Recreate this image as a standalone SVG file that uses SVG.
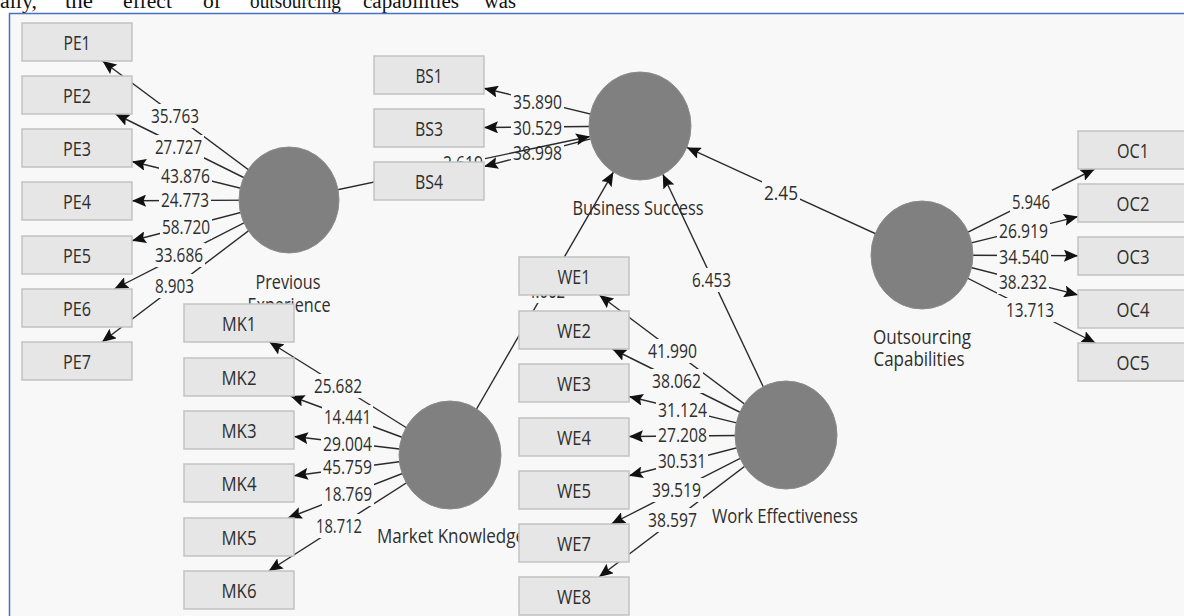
<svg xmlns="http://www.w3.org/2000/svg" width="1184" height="616" viewBox="0 0 1184 616">
  <style>
    .frame { fill: #f8f8f8; stroke: #4472c4; stroke-width: 1.5; }
    .page { font-family: "Liberation Serif", serif; font-size: 20px; fill: #111; }
    .box { fill: #e6e6e6; stroke: #c2c2c2; stroke-width: 1.5; }
    .lv { fill: #808080; stroke: #8c8c8c; stroke-width: 1; }
    .ln { stroke: #2a2a2a; stroke-width: 1.4; fill: none; marker-end: url(#ah); }
    .t { font-family: "Open Sans", "Noto Sans", sans-serif; font-size: 20px; fill: #2e2e2e; text-anchor: middle; }
    .bg { fill: #f8f8f8; }
  </style>
  <defs>
    <marker id="ah" viewBox="0 0 14 12" refX="14" refY="6" markerWidth="14" markerHeight="12" markerUnits="userSpaceOnUse" orient="auto">
      <path d="M0,0 L14,6 L0,12 L2.5,6 z" fill="#111"/>
    </marker>
  </defs>

  <!-- page background and figure frame -->
  <rect x="0" y="0" width="1184" height="616" fill="#ffffff"/>
  <g class="page">
    <text x="0" y="8" textLength="37" lengthAdjust="spacingAndGlyphs">ally,</text>
    <text x="65" y="8" textLength="28" lengthAdjust="spacingAndGlyphs">the</text>
    <text x="123" y="8" textLength="49" lengthAdjust="spacingAndGlyphs">effect</text>
    <text x="203" y="8" textLength="18" lengthAdjust="spacingAndGlyphs">of</text>
    <text x="250" y="8" textLength="91" lengthAdjust="spacingAndGlyphs">outsourcing</text>
    <text x="363" y="8" textLength="96" lengthAdjust="spacingAndGlyphs">capabilities</text>
    <text x="484" y="8" textLength="32" lengthAdjust="spacingAndGlyphs">was</text>
  </g>
  <rect class="frame" x="9.5" y="13.5" width="1200" height="620"/>

  <!-- connectors: outer loadings, then inner paths -->
  <g id="connectors">
    <g id="loadings">
      <line class="ln" x1="289" y1="200" x2="102.5" y2="61"/>
      <line class="ln" x1="289" y1="200" x2="115.4" y2="114"/>
      <line class="ln" x1="289" y1="200" x2="132" y2="161.5"/>
      <line class="ln" x1="289" y1="200" x2="132" y2="200.7"/>
      <line class="ln" x1="289" y1="200" x2="132" y2="240.7"/>
      <line class="ln" x1="289" y1="200" x2="114.3" y2="289"/>
      <line class="ln" x1="289" y1="200" x2="102" y2="342"/>

      <line class="ln" x1="640" y1="126" x2="484" y2="88.3"/>
      <line class="ln" x1="640" y1="126" x2="484" y2="127.5"/>
      <line class="ln" x1="640" y1="126" x2="484" y2="166.6"/>

      <line class="ln" x1="922" y1="255" x2="1094.8" y2="169"/>
      <line class="ln" x1="922" y1="255" x2="1078" y2="216.6"/>
      <line class="ln" x1="922" y1="255" x2="1078" y2="255.7"/>
      <line class="ln" x1="922" y1="255" x2="1078" y2="294.9"/>
      <line class="ln" x1="922" y1="255" x2="1095.5" y2="343"/>

      <line class="ln" x1="450" y1="455" x2="269.4" y2="342"/>
      <line class="ln" x1="450" y1="455" x2="290.5" y2="396"/>
      <line class="ln" x1="450" y1="455" x2="294" y2="436.5"/>
      <line class="ln" x1="450" y1="455" x2="294" y2="475.7"/>
      <line class="ln" x1="450" y1="455" x2="287.9" y2="518"/>
      <line class="ln" x1="450" y1="455" x2="268.7" y2="571"/>

      <line class="ln" x1="786" y1="435" x2="599.3" y2="295"/>
      <line class="ln" x1="786" y1="435" x2="612.4" y2="349"/>
      <line class="ln" x1="786" y1="435" x2="629" y2="396.5"/>
      <line class="ln" x1="786" y1="435" x2="629" y2="436.5"/>
      <line class="ln" x1="786" y1="435" x2="629" y2="475.8"/>
      <line class="ln" x1="786" y1="435" x2="611.3" y2="524"/>
      <line class="ln" x1="786" y1="435" x2="599" y2="577"/>
    </g>

    <g id="loading-labels">
      <!-- Previous Experience -->
      <rect class="bg" x="149" y="104" width="52" height="24"/><text class="t" x="175" y="123" textLength="48" lengthAdjust="spacingAndGlyphs">35.763</text>
      <rect class="bg" x="153" y="135" width="51" height="24"/><text class="t" x="178.5" y="154" textLength="47" lengthAdjust="spacingAndGlyphs">27.727</text>
      <rect class="bg" x="159" y="164" width="53" height="24"/><text class="t" x="185.5" y="183" textLength="49" lengthAdjust="spacingAndGlyphs">43.876</text>
      <rect class="bg" x="159" y="188" width="52" height="24"/><text class="t" x="185" y="207" textLength="48" lengthAdjust="spacingAndGlyphs">24.773</text>
      <rect class="bg" x="160" y="215" width="52" height="24"/><text class="t" x="186" y="234" textLength="48" lengthAdjust="spacingAndGlyphs">58.720</text>
      <rect class="bg" x="153" y="243" width="52" height="24"/><text class="t" x="179" y="262" textLength="48" lengthAdjust="spacingAndGlyphs">33.686</text>
      <rect class="bg" x="153" y="274" width="43" height="24"/><text class="t" x="174.5" y="293" textLength="39" lengthAdjust="spacingAndGlyphs">8.903</text>
      <!-- Business Success -->
      <rect class="bg" x="511" y="90" width="53" height="24"/><text class="t" x="537.5" y="109" textLength="49" lengthAdjust="spacingAndGlyphs">35.890</text>
      <rect class="bg" x="511" y="116" width="53" height="24"/><text class="t" x="537.5" y="135" textLength="49" lengthAdjust="spacingAndGlyphs">30.529</text>
      <rect class="bg" x="511" y="145" width="53" height="20"/><text class="t" x="537.5" y="160" textLength="49" lengthAdjust="spacingAndGlyphs">38.998</text>
      <!-- Outsourcing Capabilities -->
      <rect class="bg" x="1010" y="190" width="42" height="24"/><text class="t" x="1031" y="209" textLength="38" lengthAdjust="spacingAndGlyphs">5.946</text>
      <rect class="bg" x="997" y="219" width="53" height="24"/><text class="t" x="1023.5" y="238" textLength="49" lengthAdjust="spacingAndGlyphs">26.919</text>
      <rect class="bg" x="997" y="245" width="54" height="24"/><text class="t" x="1024" y="264" textLength="50" lengthAdjust="spacingAndGlyphs">34.540</text>
      <rect class="bg" x="997" y="270" width="52" height="24"/><text class="t" x="1023" y="289" textLength="48" lengthAdjust="spacingAndGlyphs">38.232</text>
      <rect class="bg" x="1004" y="298" width="52" height="24"/><text class="t" x="1030" y="317" textLength="48" lengthAdjust="spacingAndGlyphs">13.713</text>
      <!-- Market Knowledge -->
      <rect class="bg" x="312" y="374" width="52" height="24"/><text class="t" x="338" y="393" textLength="48" lengthAdjust="spacingAndGlyphs">25.682</text>
      <rect class="bg" x="322" y="405" width="51" height="24"/><text class="t" x="347.5" y="424" textLength="47" lengthAdjust="spacingAndGlyphs">14.441</text>
      <rect class="bg" x="321" y="432" width="53" height="24"/><text class="t" x="347.5" y="451" textLength="49" lengthAdjust="spacingAndGlyphs">29.004</text>
      <rect class="bg" x="321" y="455" width="53" height="24"/><text class="t" x="347.5" y="474" textLength="49" lengthAdjust="spacingAndGlyphs">45.759</text>
      <rect class="bg" x="322" y="482" width="52" height="24"/><text class="t" x="348" y="501" textLength="48" lengthAdjust="spacingAndGlyphs">18.769</text>
      <rect class="bg" x="314" y="514" width="50" height="24"/><text class="t" x="339" y="533" textLength="46" lengthAdjust="spacingAndGlyphs">18.712</text>
      <!-- Work Effectiveness -->
      <rect class="bg" x="646" y="339" width="53" height="24"/><text class="t" x="672.5" y="358" textLength="49" lengthAdjust="spacingAndGlyphs">41.990</text>
      <rect class="bg" x="650" y="369" width="53" height="24"/><text class="t" x="676.5" y="388" textLength="49" lengthAdjust="spacingAndGlyphs">38.062</text>
      <rect class="bg" x="656" y="398" width="53" height="24"/><text class="t" x="682.5" y="417" textLength="49" lengthAdjust="spacingAndGlyphs">31.124</text>
      <rect class="bg" x="656" y="423" width="53" height="24"/><text class="t" x="682.5" y="442" textLength="49" lengthAdjust="spacingAndGlyphs">27.208</text>
      <rect class="bg" x="656" y="449" width="52" height="24"/><text class="t" x="682" y="468" textLength="48" lengthAdjust="spacingAndGlyphs">30.531</text>
      <rect class="bg" x="650" y="478" width="53" height="24"/><text class="t" x="676.5" y="497" textLength="49" lengthAdjust="spacingAndGlyphs">39.519</text>
      <rect class="bg" x="646" y="508" width="53" height="24"/><text class="t" x="672.5" y="527" textLength="49" lengthAdjust="spacingAndGlyphs">38.597</text>
    </g>

    <g id="paths">
      <line class="ln" x1="289" y1="200" x2="590" y2="136.5"/>
      <line class="ln" x1="450" y1="455" x2="613.4" y2="172.1"/>
      <line class="ln" x1="786" y1="435" x2="662.8" y2="174.3"/>
      <line class="ln" x1="922" y1="255" x2="686.8" y2="147.4"/>
    </g>
    <g id="path-labels">
      <rect class="bg" x="441" y="151" width="44" height="24"/><text class="t" x="463" y="170" textLength="40" lengthAdjust="spacingAndGlyphs">2.619</text>
      <rect class="bg" x="525" y="279" width="42" height="24"/><text class="t" x="546" y="298" textLength="38" lengthAdjust="spacingAndGlyphs">4.062</text>
      <rect class="bg" x="690" y="268" width="43" height="24"/><text class="t" x="711.5" y="287" textLength="39" lengthAdjust="spacingAndGlyphs">6.453</text>
      <rect class="bg" x="762" y="181" width="38" height="24"/><text class="t" x="781" y="200" textLength="34" lengthAdjust="spacingAndGlyphs">2.45</text>
    </g>
  </g>

  <!-- latent variables -->
  <g id="PE">
    <ellipse class="lv" cx="289" cy="200" rx="50" ry="53"/>
    <text class="t" x="288" y="289" textLength="65" lengthAdjust="spacingAndGlyphs">Previous</text>
    <text class="t" x="289" y="312" textLength="83" lengthAdjust="spacingAndGlyphs">Experience</text>
  </g>
  <g id="BS">
    <ellipse class="lv" cx="640" cy="126" rx="51" ry="54"/>
    <text class="t" x="638" y="215" textLength="131" lengthAdjust="spacingAndGlyphs">Business Success</text>
  </g>
  <g id="OC">
    <ellipse class="lv" cx="922" cy="255" rx="51" ry="54"/>
    <text class="t" x="922" y="344" textLength="98" lengthAdjust="spacingAndGlyphs">Outsourcing</text>
    <text class="t" x="919" y="366" textLength="91" lengthAdjust="spacingAndGlyphs">Capabilities</text>
  </g>
  <g id="MK">
    <ellipse class="lv" cx="450" cy="455" rx="51" ry="54"/>
    <text class="t" x="451" y="543" textLength="148" lengthAdjust="spacingAndGlyphs">Market Knowledge</text>
  </g>
  <g id="WE">
    <ellipse class="lv" cx="786" cy="435" rx="51" ry="54"/>
    <text class="t" x="785" y="523" textLength="146" lengthAdjust="spacingAndGlyphs">Work Effectiveness</text>
  </g>

  <!-- indicators -->
  <g id="PE1"><rect class="box" x="22" y="23" width="110" height="38"/><text class="t" x="77" y="50" textLength="27" lengthAdjust="spacingAndGlyphs">PE1</text></g>
  <g id="PE2"><rect class="box" x="22" y="76" width="110" height="38"/><text class="t" x="77" y="103" textLength="28" lengthAdjust="spacingAndGlyphs">PE2</text></g>
  <g id="PE3"><rect class="box" x="22" y="129" width="110" height="38"/><text class="t" x="77" y="156" textLength="28" lengthAdjust="spacingAndGlyphs">PE3</text></g>
  <g id="PE4"><rect class="box" x="22" y="182" width="110" height="38"/><text class="t" x="77" y="209" textLength="28" lengthAdjust="spacingAndGlyphs">PE4</text></g>
  <g id="PE5"><rect class="box" x="22" y="236" width="110" height="38"/><text class="t" x="77" y="263" textLength="28" lengthAdjust="spacingAndGlyphs">PE5</text></g>
  <g id="PE6"><rect class="box" x="22" y="289" width="110" height="38"/><text class="t" x="77" y="316" textLength="28" lengthAdjust="spacingAndGlyphs">PE6</text></g>
  <g id="PE7"><rect class="box" x="22" y="342" width="110" height="38"/><text class="t" x="77" y="369" textLength="28" lengthAdjust="spacingAndGlyphs">PE7</text></g>

  <g id="BS1"><rect class="box" x="374" y="56" width="110" height="38"/><text class="t" x="429" y="83" textLength="27" lengthAdjust="spacingAndGlyphs">BS1</text></g>
  <g id="BS3"><rect class="box" x="374" y="109" width="110" height="38"/><text class="t" x="429" y="136" textLength="28" lengthAdjust="spacingAndGlyphs">BS3</text></g>
  <g id="BS4"><rect class="box" x="374" y="162" width="110" height="38"/><text class="t" x="429" y="189" textLength="28" lengthAdjust="spacingAndGlyphs">BS4</text></g>

  <g id="OC1"><rect class="box" x="1078" y="131" width="110" height="38"/><text class="t" x="1133" y="158" textLength="32" lengthAdjust="spacingAndGlyphs">OC1</text></g>
  <g id="OC2"><rect class="box" x="1078" y="184" width="110" height="38"/><text class="t" x="1133" y="211" textLength="33" lengthAdjust="spacingAndGlyphs">OC2</text></g>
  <g id="OC3"><rect class="box" x="1078" y="237" width="110" height="38"/><text class="t" x="1133" y="264" textLength="33" lengthAdjust="spacingAndGlyphs">OC3</text></g>
  <g id="OC4"><rect class="box" x="1078" y="290" width="110" height="38"/><text class="t" x="1133" y="317" textLength="33" lengthAdjust="spacingAndGlyphs">OC4</text></g>
  <g id="OC5"><rect class="box" x="1078" y="343" width="110" height="38"/><text class="t" x="1133" y="370" textLength="33" lengthAdjust="spacingAndGlyphs">OC5</text></g>

  <g id="MK1"><rect class="box" x="184" y="304" width="110" height="38"/><text class="t" x="239" y="331" textLength="34" lengthAdjust="spacingAndGlyphs">MK1</text></g>
  <g id="MK2"><rect class="box" x="184" y="358" width="110" height="38"/><text class="t" x="239" y="385" textLength="35" lengthAdjust="spacingAndGlyphs">MK2</text></g>
  <g id="MK3"><rect class="box" x="184" y="411" width="110" height="38"/><text class="t" x="239" y="438" textLength="35" lengthAdjust="spacingAndGlyphs">MK3</text></g>
  <g id="MK4"><rect class="box" x="184" y="464" width="110" height="38"/><text class="t" x="239" y="491" textLength="35" lengthAdjust="spacingAndGlyphs">MK4</text></g>
  <g id="MK5"><rect class="box" x="184" y="518" width="110" height="38"/><text class="t" x="239" y="545" textLength="35" lengthAdjust="spacingAndGlyphs">MK5</text></g>
  <g id="MK6"><rect class="box" x="184" y="571" width="110" height="38"/><text class="t" x="239" y="598" textLength="35" lengthAdjust="spacingAndGlyphs">MK6</text></g>

  <g id="WE1"><rect class="box" x="519" y="257" width="110" height="38"/><text class="t" x="574" y="284" textLength="33" lengthAdjust="spacingAndGlyphs">WE1</text></g>
  <g id="WE2"><rect class="box" x="519" y="311" width="110" height="38"/><text class="t" x="574" y="338" textLength="34" lengthAdjust="spacingAndGlyphs">WE2</text></g>
  <g id="WE3"><rect class="box" x="519" y="364" width="110" height="38"/><text class="t" x="574" y="391" textLength="34" lengthAdjust="spacingAndGlyphs">WE3</text></g>
  <g id="WE4"><rect class="box" x="519" y="418" width="110" height="38"/><text class="t" x="574" y="445" textLength="34" lengthAdjust="spacingAndGlyphs">WE4</text></g>
  <g id="WE5"><rect class="box" x="519" y="471" width="110" height="38"/><text class="t" x="574" y="498" textLength="34" lengthAdjust="spacingAndGlyphs">WE5</text></g>
  <g id="WE7"><rect class="box" x="519" y="524" width="110" height="38"/><text class="t" x="574" y="551" textLength="34" lengthAdjust="spacingAndGlyphs">WE7</text></g>
  <g id="WE8"><rect class="box" x="519" y="577" width="110" height="38"/><text class="t" x="574" y="604" textLength="34" lengthAdjust="spacingAndGlyphs">WE8</text></g>
</svg>
